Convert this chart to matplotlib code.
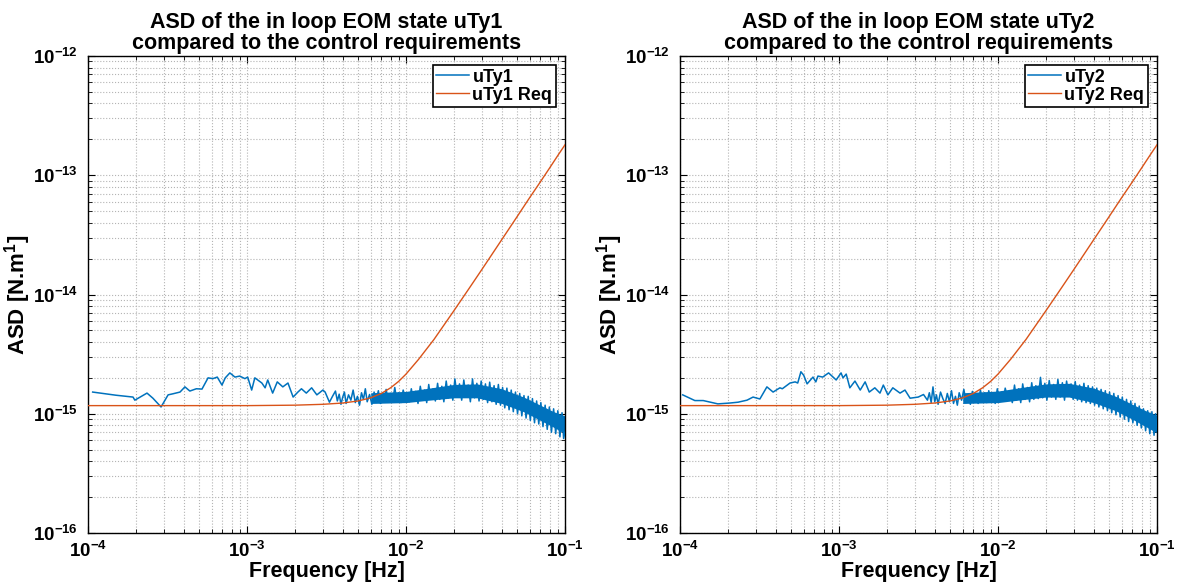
import numpy as np
import matplotlib
matplotlib.use("Agg")
import matplotlib.pyplot as plt
from matplotlib.ticker import FixedLocator, FuncFormatter, LogLocator, NullFormatter

plt.rcParams['font.family'] = ['Liberation Sans', 'DejaVu Sans']
plt.rcParams['font.weight'] = 'bold'
plt.rcParams['mathtext.fontset'] = 'custom'
plt.rcParams['mathtext.rm'] = 'Liberation Sans:bold'
plt.rcParams['mathtext.it'] = 'Liberation Sans:bold'
plt.rcParams['mathtext.bf'] = 'Liberation Sans:bold'

BLUE = '#0072BD'
RED = '#D95319'

# --- data (ASD values in units of 1e-15 N.m, frequencies in mHz) ---
# uTy1: low frequency part
low1_f = [0.107, 0.15, 0.192, 0.197, 0.235, 0.256, 0.288, 0.319, 0.342, 0.379, 0.407, 0.437,
          0.48, 0.521, 0.569, 0.61, 0.65, 0.696, 0.73, 0.78, 0.84, 0.90, 0.97, 1.01, 1.07,
          1.12, 1.24, 1.30, 1.35, 1.45, 1.55, 1.68, 1.81, 1.95, 2.09, 2.2, 2.36, 2.55, 2.75,
          3.0, 3.1, 3.3, 3.45]
low1_v = [1.52, 1.43, 1.38, 1.30, 1.49, 1.35, 1.14, 1.44, 1.47, 1.52, 1.68, 1.55,
          1.62, 1.61, 2.00, 1.97, 2.03, 1.74, 2.00, 2.20, 2.03, 2.07, 1.97, 2.03, 1.58,
          2.00, 1.81, 1.65, 1.92, 1.49, 1.85, 1.68, 1.81, 1.38, 1.52, 1.62, 1.49, 1.65, 1.44,
          1.58, 1.52, 1.25, 1.40]

# uTy2: low frequency part
low2_f = [0.104, 0.124, 0.14, 0.173, 0.206, 0.232, 0.264, 0.288, 0.318, 0.352, 0.385, 0.425,
          0.44, 0.492, 0.53, 0.55, 0.576, 0.60, 0.63, 0.686, 0.715, 0.737, 0.79, 0.86,
          0.96, 1.03, 1.06, 1.11, 1.17, 1.26, 1.36, 1.46, 1.55, 1.68, 1.81, 1.90, 2.03,
          2.18, 2.42, 2.6, 2.8, 3.15, 3.4]
low2_v = [1.44, 1.29, 1.29, 1.21, 1.23, 1.25, 1.30, 1.38, 1.33, 1.68, 1.52, 1.65,
          1.62, 1.81, 1.85, 1.81, 2.25, 2.10, 1.78, 2.03, 1.85, 2.07, 2.03, 2.20,
          1.92, 2.20, 2.00, 2.15, 1.65, 1.88, 1.58, 1.85, 1.52, 1.65, 1.49, 1.74, 1.44,
          1.65, 1.49, 1.58, 1.35, 1.38, 1.45]

# noisy high frequency part (shared frequency grid)
hi_f = [3.6, 3.7, 3.8, 3.9, 4.0, 4.1, 4.2, 4.35, 4.5, 4.65,
        4.8, 4.95, 5.1, 5.25, 5.4, 5.55, 5.7, 5.9, 6.1, 6.3,
        6.5, 6.7, 6.9, 7.1, 7.3, 7.5, 7.75, 8.0, 8.25, 8.5,
        8.75, 9.0, 9.3, 9.6, 9.9, 10.2, 10.5, 10.8, 11.1, 11.5,
        11.9, 12.3, 12.7, 13.1, 13.5, 13.9, 14.3, 14.8, 15.3, 15.8,
        16.3, 16.8, 17.3, 17.9, 18.5, 19.1, 19.7, 20.3, 21.0, 21.7,
        22.4, 23.1, 23.8, 24.6, 25.4, 26.2, 27.0, 27.9, 28.8, 29.7,
        30.6, 31.6, 32.6, 33.6, 34.7, 35.8, 36.9, 38.1, 39.3, 40.5,
        41.8, 43.1, 44.5, 45.9, 47.3, 48.8, 50.3, 51.9, 53.5, 55.2,
        56.9, 58.7, 60.5, 62.4, 64.3, 66.3, 68.4, 70.5, 72.7, 75.0,
        77.3, 79.7, 82.2, 84.8, 87.4, 90.1, 92.9, 95.8, 98.0, 100.0]
hi1_v = [1.55, 1.28, 1.46, 1.20, 1.38, 1.52, 1.22, 1.44, 1.30, 1.58,
         1.24, 1.40, 1.18, 1.50, 1.32, 1.62, 1.26, 1.45, 1.20, 1.52,
         1.30, 1.56, 1.22, 1.42, 1.34, 1.60, 1.25, 1.48, 1.28, 1.66,
         1.30, 1.50, 1.24, 1.58, 1.36, 1.46, 1.26, 1.62, 1.32, 1.54,
         1.22, 1.70, 1.32, 1.58, 1.24, 1.76, 1.34, 1.62, 1.28, 1.80,
         1.32, 1.70, 1.26, 1.88, 1.36, 1.74, 1.30, 1.96, 1.38, 1.78,
         1.30, 1.92, 1.40, 1.74, 1.26, 1.96, 1.36, 1.80, 1.28, 1.88,
         1.32, 1.78, 1.24, 1.84, 1.26, 1.72, 1.20, 1.76, 1.18, 1.66,
         1.12, 1.64, 1.08, 1.58, 1.04, 1.52, 1.00, 1.48, 0.96, 1.42,
         0.92, 1.40, 0.88, 1.34, 0.84, 1.28, 0.82, 1.24, 0.78, 1.18,
         0.74, 1.14, 0.70, 1.10, 0.68, 1.06, 0.64, 1.02, 0.62, 0.70]
hi2_v = [1.30, 1.50, 1.24, 1.68, 1.26, 1.44, 1.20, 1.52, 1.34, 1.22,
         1.48, 1.26, 1.56, 1.22, 1.40, 1.18, 1.50, 1.30, 1.60, 1.24,
         1.46, 1.20, 1.54, 1.32, 1.44, 1.22, 1.58, 1.28, 1.50, 1.24,
         1.56, 1.30, 1.48, 1.22, 1.62, 1.34, 1.52, 1.28, 1.64, 1.36,
         1.56, 1.24, 1.74, 1.30, 1.62, 1.24, 1.78, 1.32, 1.66, 1.26,
         1.82, 1.32, 1.72, 1.34, 2.02, 1.36, 1.80, 1.30, 1.90, 1.38,
         1.76, 1.32, 1.94, 1.38, 1.82, 1.30, 1.88, 1.40, 1.78, 1.32,
         1.86, 1.30, 1.74, 1.26, 1.80, 1.24, 1.72, 1.22, 1.68, 1.18,
         1.64, 1.14, 1.60, 1.10, 1.56, 1.06, 1.52, 1.02, 1.48, 0.98,
         1.42, 0.94, 1.38, 0.90, 1.32, 0.86, 1.28, 0.84, 1.22, 0.80,
         1.16, 0.76, 1.10, 0.72, 1.06, 0.68, 1.04, 0.66, 1.00, 0.72]

# dense core of the noise band
band_f = [6.0, 10.0, 14.0, 20.0, 28.0, 40.0, 55.0, 70.0, 85.0, 100.0]
band1_lo = [1.22, 1.24, 1.30, 1.36, 1.36, 1.22, 1.04, 0.88, 0.77, 0.68]
band1_hi = [1.50, 1.54, 1.64, 1.76, 1.78, 1.62, 1.38, 1.18, 1.04, 0.96]
band2_lo = [1.22, 1.24, 1.31, 1.38, 1.38, 1.24, 1.06, 0.90, 0.78, 0.69]
band2_hi = [1.50, 1.55, 1.66, 1.78, 1.80, 1.64, 1.40, 1.20, 1.06, 0.97]

# requirement (same for both states)
req_f = [0.1, 1.0, 2.0, 3.0, 4.0, 5.0, 6.0, 7.0, 8.0, 9.0, 10.0, 12.0, 15.0, 20.0, 25.0,
         30.0, 40.0, 50.0, 60.0, 70.0, 80.0, 90.0, 100.0]
req_v = [1.17, 1.17, 1.18, 1.20, 1.23, 1.28, 1.36, 1.48, 1.65, 1.87, 2.15, 2.86, 4.2, 7.3,
         11.3, 16.2, 28.8, 45.0, 65.0, 88.0, 115.0, 146.0, 180.0]

states = ['uTy1', 'uTy2']
series = [(low1_f, low1_v, hi1_v, band1_lo, band1_hi),
          (low2_f, low2_v, hi2_v, band2_lo, band2_hi)]

fig = plt.figure(figsize=(11.79, 5.87), dpi=100)
lefts = [88 / 1179, 680 / 1179]

def sci(v, pos):
    return r'$10^{%d}$' % int(round(np.log10(v)))

for i, name in enumerate(states):
    ax = fig.add_axes([lefts[i], 54 / 587, 477 / 1179, 477 / 587])
    lf, lv, hv, blo, bhi = series[i]
    f = np.array(lf + hi_f) * 1e-3
    v = np.array(lv + hv) * 1e-15
    ax.fill_between(np.array(band_f) * 1e-3, np.array(blo) * 1e-15, np.array(bhi) * 1e-15,
                    color=BLUE, lw=0, zorder=2)
    ax.plot(f, v, color=BLUE, lw=1.1, label=name, zorder=3)
    ax.plot(np.array(req_f) * 1e-3, np.array(req_v) * 1e-15, color=RED, lw=1.0,
            label=name + ' Req', zorder=4)

    ax.set_xscale('log')
    ax.set_yscale('log')
    ax.set_xlim(1e-4, 1e-1)
    ax.set_ylim(1e-16, 1e-12)
    ax.xaxis.set_major_locator(FixedLocator([1e-4, 1e-3, 1e-2, 1e-1]))
    ax.yaxis.set_major_locator(FixedLocator([1e-16, 1e-15, 1e-14, 1e-13, 1e-12]))
    ax.xaxis.set_minor_locator(LogLocator(base=10, subs=np.arange(2, 10), numticks=20))
    ax.yaxis.set_minor_locator(LogLocator(base=10, subs=np.arange(2, 10), numticks=20))
    ax.xaxis.set_major_formatter(FuncFormatter(sci))
    ax.yaxis.set_major_formatter(FuncFormatter(sci))
    ax.xaxis.set_minor_formatter(NullFormatter())
    ax.yaxis.set_minor_formatter(NullFormatter())

    ax.grid(True, which='both', linestyle=':', color='#b4b4b4', linewidth=0.8)
    ax.set_axisbelow(True)
    ax.tick_params(which='both', direction='in', top=True, right=True, labelsize=13.5)
    ax.tick_params(which='major', length=5, width=0.8)
    ax.tick_params(which='minor', length=3, width=0.6)
    ax.tick_params(axis='y', pad=7)
    ax.tick_params(axis='x', pad=6)
    for s in ax.spines.values():
        s.set_linewidth(1.0)

    ax.set_title('ASD of the in loop EOM state %s\ncompared to the control requirements' % name,
                 fontsize=15.5, fontweight='bold', pad=5, linespacing=1.0)
    ax.set_xlabel('Frequency [Hz]', fontsize=15.5, fontweight='bold', labelpad=0)
    ax.set_ylabel(r'ASD [N.m$^{1}$]', fontsize=16, fontweight='bold', labelpad=0)

    leg = ax.legend(loc='upper right', fontsize=13, frameon=True, fancybox=False,
                    edgecolor='black', framealpha=1, handlelength=1.8, handletextpad=0.2,
                    borderpad=0.2, labelspacing=0.05, borderaxespad=0.5)
    leg.get_frame().set_linewidth(1.2)

fig.savefig('out.png', dpi=100)
